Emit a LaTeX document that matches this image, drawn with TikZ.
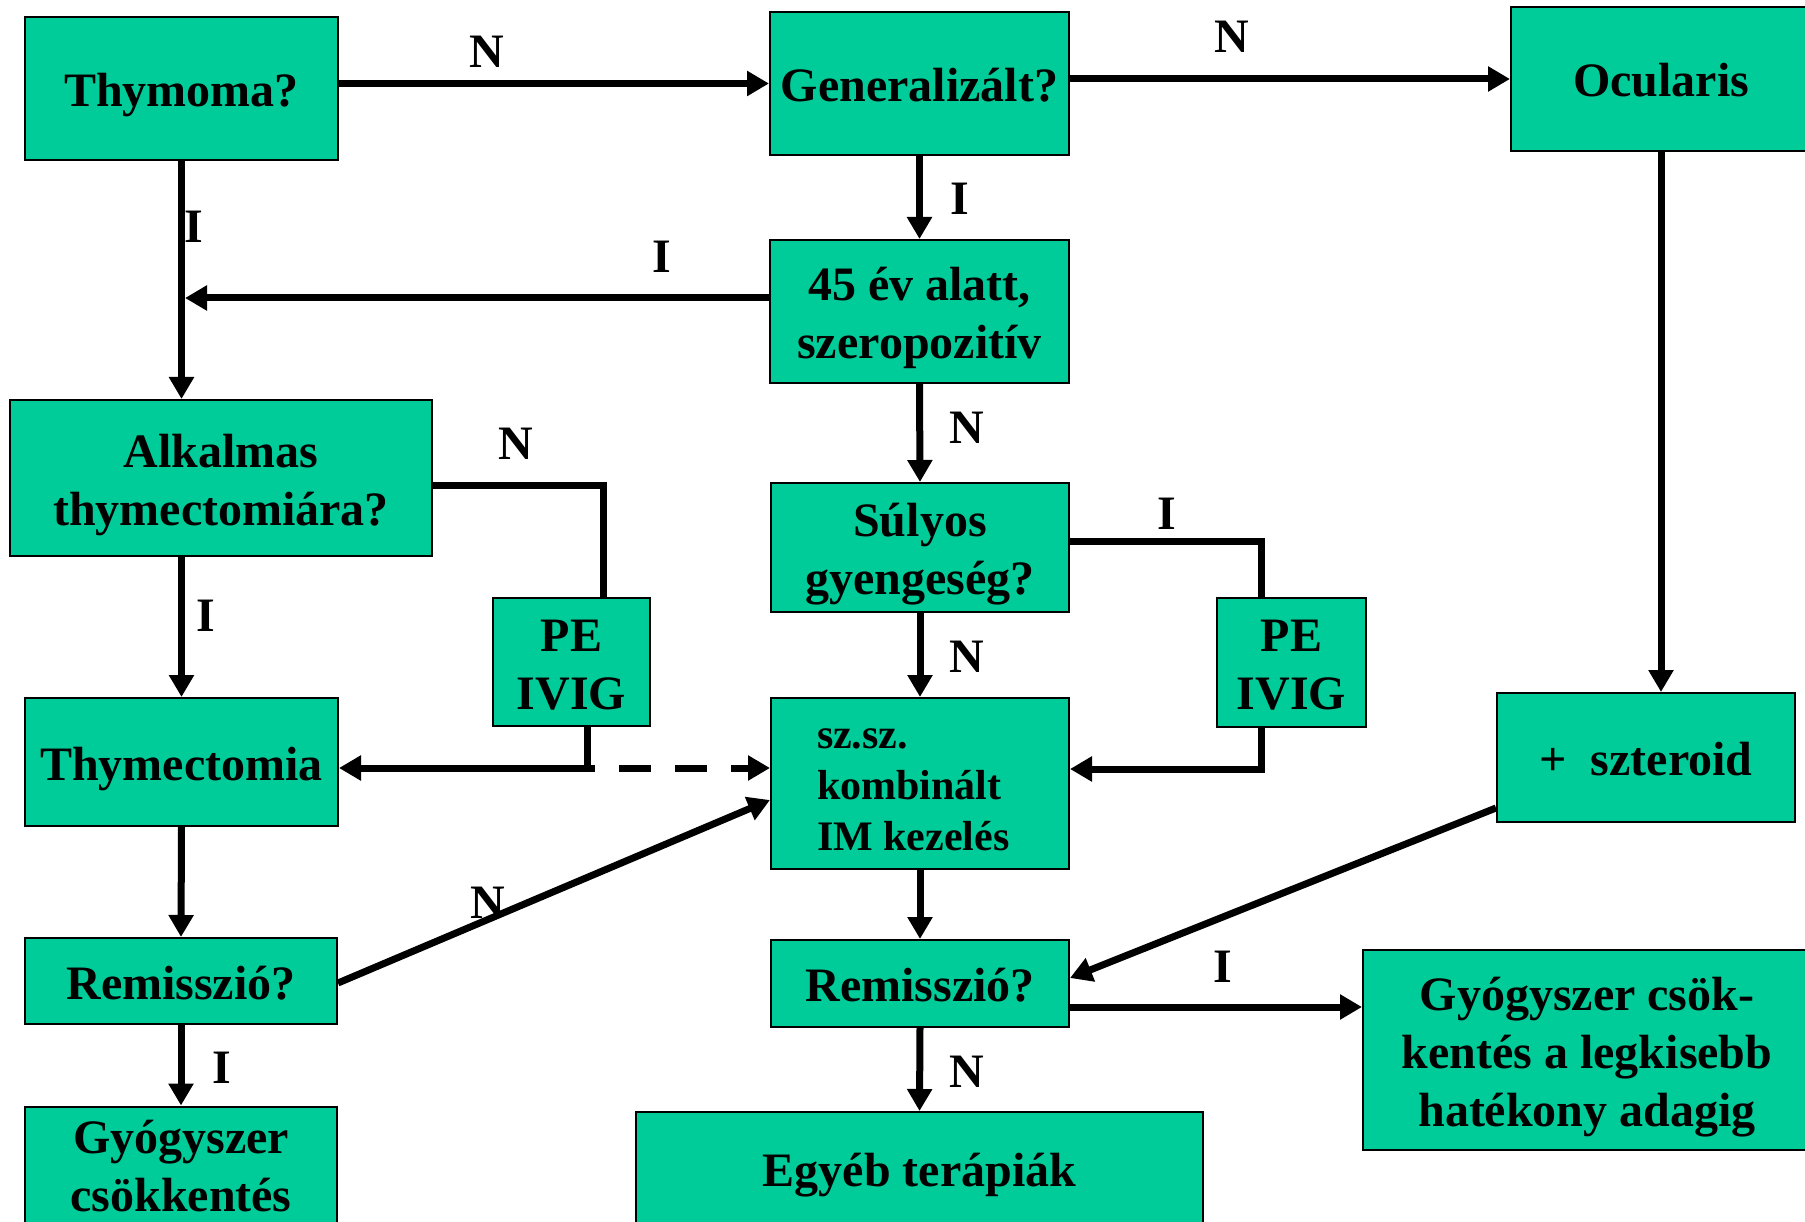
\documentclass[tikz,border=0pt]{standalone}
\usepackage{fontspec}
\setmainfont{Liberation Serif}
\usetikzlibrary{arrows.meta}
\definecolor{mggreen}{RGB}{0,204,153}
\newcommand{\boxfont}{\fontsize{48}{58}\selectfont\bfseries}
\newcommand{\smallboxfont}{\fontsize{42}{51}\selectfont\bfseries}
\newcommand{\boxstrut}{\rule[-11pt]{0pt}{58pt}}
\newcommand{\smallboxstrut}{\rule[-10pt]{0pt}{51pt}}

\begin{document}
\begin{tikzpicture}[x=1pt, y=-1pt,
	box/.style={draw=black, line width=2pt, fill=mggreen, inner sep=0pt, align=center, font=\boxfont},
	link/.style={line width=7pt},
	flow/.style={line width=7pt, -{Triangle[length=22pt,width=24pt]}},
	tag/.style={anchor=base, inner sep=0pt, font=\boxfont}]
	\path[use as bounding box, fill=white] (0,0) rectangle (1805,1222);
	% boxes
	\node[box, minimum width=313pt, minimum height=143pt] (thym) at (181.5,88.5) {\boxstrut Thymoma?};
	\node[box, minimum width=299pt, minimum height=143pt] (gen) at (919.5,83.5) {\boxstrut Generalizált?};
	\node[box, minimum width=300pt, minimum height=144pt] (ocul) at (1661,79) {\boxstrut Ocularis};
	\node[box, minimum width=299pt, minimum height=143pt] (age) at (919.5,311.5) {\boxstrut 45 év alatt,\\szeropozitív\boxstrut};
	\node[box, minimum width=422pt, minimum height=156pt] (alk) at (221,478) {\boxstrut Alkalmas\\thymectomiára?\boxstrut};
	\node[box, minimum width=313pt, minimum height=128pt] (thyx) at (181.5,762) {\boxstrut Thymectomia};
	\node[box, minimum width=157pt, minimum height=128pt] (peL) at (571.5,662) {\boxstrut PE\\IVIG\boxstrut};
	\node[box, minimum width=298pt, minimum height=129pt] (sul) at (920,547.5) {\boxstrut Súlyos\\gyengeség?\boxstrut};
	\node[box, minimum width=298pt, minimum height=171pt, text width=206pt, align=flush left, font=\smallboxfont] (szsz) at (920,783.5) {\smallboxstrut sz.sz.\\kombinált\\IM kezelés\smallboxstrut};
	\node[box, minimum width=149pt, minimum height=129pt] (peR) at (1291.5,662.5) {\boxstrut PE\\IVIG\boxstrut};
	\node[box, minimum width=298pt, minimum height=129pt] (szter) at (1646,757.5) {\boxstrut +\ \ szteroid};
	\node[box, minimum width=312pt, minimum height=86pt] (remL) at (181,981) {\boxstrut Remisszió?};
	\node[box, minimum width=312pt, minimum height=113pt] (gyL) at (181,1164.5) {\boxstrut Gyógyszer\\csökkentés\boxstrut};
	\node[box, minimum width=298pt, minimum height=87pt] (remM) at (920,983.5) {\boxstrut Remisszió?};
	\node[box, minimum width=567pt, minimum height=112pt] (egy) at (919.5,1168) {\boxstrut Egyéb terápiák};
	\node[box, minimum width=448pt, minimum height=200pt] (gyR) at (1587,1050) {\boxstrut Gyógyszer csök-\\kentés a legkisebb\\hatékony adagig\boxstrut};
	% helper points
	\coordinate (jA) at (185,298);
	\coordinate (kL) at (603,485);
	\coordinate (mL) at (587,768);
	\coordinate (kR) at (1261,541);
	\coordinate (mR) at (1261,769);
	\coordinate (rI) at ([yshift=-23.5pt]remM.east);
	% connectors
	\draw[flow] (thym.east |- gen.west) -- (gen.west);
	\draw[flow] (gen.east |- ocul.west) -- (ocul.west);
	\draw[flow] (gen.south) -- (age.north);
	\draw[flow] (thym.south) -- (thym.south |- alk.north);
	\draw[flow] (age.west |- jA) -- (jA);
	\draw[flow] (thyx.north |- alk.south) -- (thyx.north);
	\draw[link] (alk.east |- kL) -- (kL) -- (kL |- peL.north);
	\draw[flow] (peL.south -| mL) -- (mL) -- (thyx.east |- mL);
	\draw[flow, dash pattern=on 32pt off 24pt, dash phase=24pt] (mL) -- (szsz.west |- mL);
	\draw[flow] (age.south) -- (sul.north);
	\draw[flow] (sul.south) -- (szsz.north);
	\draw[link] (sul.east |- kR) -- (kR) -- (kR |- peR.north);
	\draw[flow] (peR.south -| mR) -- (mR) -- (szsz.east |- mR);
	\draw[flow] (ocul.south) -- (ocul.south |- szter.north);
	\draw[flow] (thyx.south) -- (remL.north);
	\draw[flow] (remL.south) -- (gyL.north);
	\draw[flow] ([yshift=-2pt]remL.east) -- ([yshift=-16.5pt]szsz.west);
	\draw[flow] (szsz.south) -- (remM.north);
	\draw[flow] ([yshift=-50.5pt]szter.west) -- ([yshift=5.5pt]remM.east);
	\draw[flow] (rI) -- (rI -| gyR.west);
	\draw[flow] (remM.south) -- (egy.north);
	% labels
	\node[tag] (n1) at (487,68) {N};
	\node[tag] (n2) at (1232,53) {N};
	\node[tag] (i1) at (960,215) {I};
	\node[tag] (i2) at (194,243) {I};
	\node[tag] (i3) at (662,273) {I};
	\node[tag] (i4) at (206,631) {I};
	\node[tag] (n3) at (516,460) {N};
	\node[tag] (n4) at (967,444) {N};
	\node[tag] (i5) at (1167,529) {I};
	\node[tag] (n5) at (967,672) {N};
	\node[tag] (n6) at (488,918) {N};
	\node[tag] (i6) at (1223,982) {I};
	\node[tag] (n7) at (967,1087) {N};
	\node[tag] (i7) at (222,1083) {I};
\end{tikzpicture}
\end{document}
